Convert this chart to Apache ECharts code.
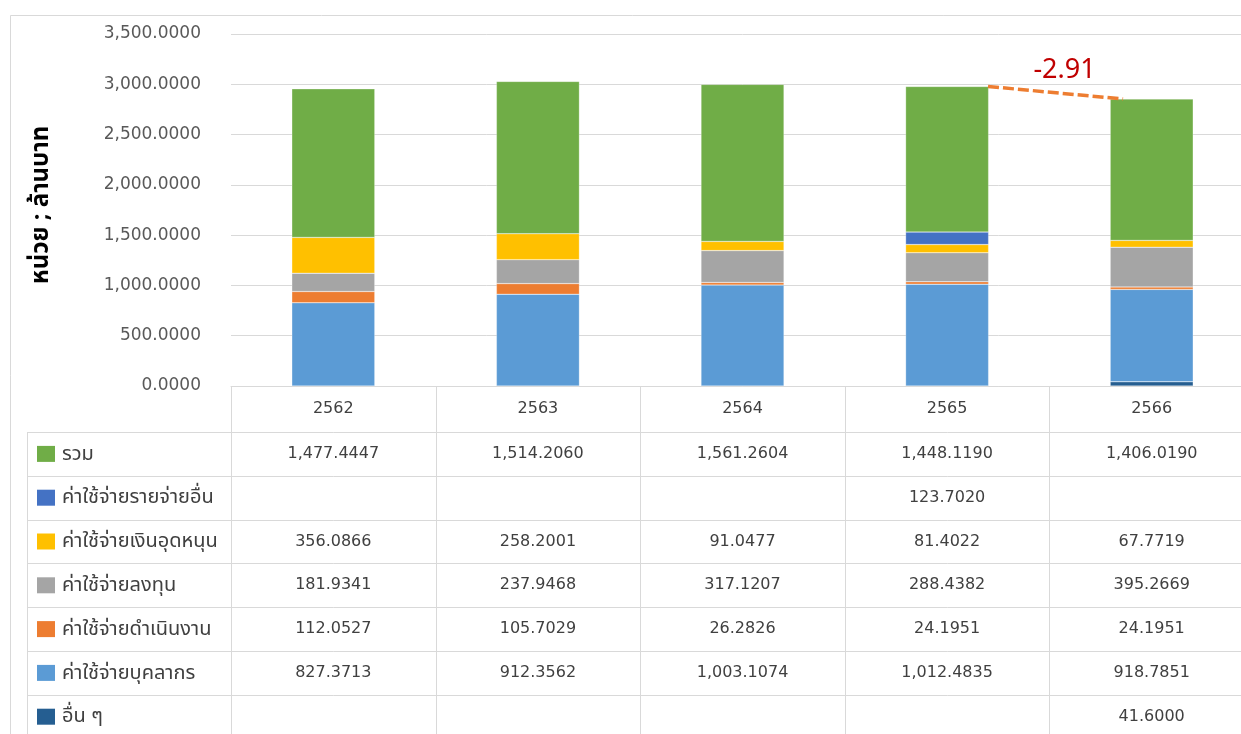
<!DOCTYPE html>
<html>
<head>
<meta charset="utf-8">
<script src="https://cdn.jsdelivr.net/npm/echarts@6/dist/echarts.min.js"></script>
<style>
  html, body { margin: 0; padding: 0; background: #fff; overflow: hidden; width: 1241px; height: 734px; }
  /* the last table column runs past the right edge of the page */
  #chart { width: 1254px; height: 734px; }
</style>
</head>
<body>
<div id="chart"></div>
<script>
// Fiscal years (Thai Buddhist era)
const years = ['2562', '2563', '2564', '2565', '2566'];

// Expense groups, million baht (null = no entry)
const otherMisc     = [null, null, null, null, 41.6000];                              // อื่น ๆ
const personnel     = [827.3713, 912.3562, 1003.1074, 1012.4835, 918.7851];            // ค่าใช้จ่ายบุคลากร
const operations    = [112.0527, 105.7029, 26.2826, 24.1951, 24.1951];                 // ค่าใช้จ่ายดำเนินงาน
const investment    = [181.9341, 237.9468, 317.1207, 288.4382, 395.2669];              // ค่าใช้จ่ายลงทุน
const subsidy       = [356.0866, 258.2001, 91.0477, 81.4022, 67.7719];                 // ค่าใช้จ่ายเงินอุดหนุน
const otherExpense  = [null, null, null, 123.7020, null];                              // ค่าใช้จ่ายรายจ่ายอื่น
const total         = [1477.4447, 1514.2060, 1561.2604, 1448.1190, 1406.0190];         // รวม

const yTicks = { min: 0, max: 3500, interval: 500 };

// Series in stacking order (bottom to top)
const stackSeries = [
  { name: 'อื่น ๆ',               data: otherMisc,    color: '#255E91' },
  { name: 'ค่าใช้จ่ายบุคลากร',      data: personnel,    color: '#5B9BD5' },
  { name: 'ค่าใช้จ่ายดำเนินงาน',    data: operations,   color: '#ED7D31' },
  { name: 'ค่าใช้จ่ายลงทุน',       data: investment,   color: '#A5A5A5' },
  { name: 'ค่าใช้จ่ายเงินอุดหนุน',   data: subsidy,      color: '#FFC000' },
  { name: 'ค่าใช้จ่ายรายจ่ายอื่น',   data: otherExpense, color: '#4472C4' },
  { name: 'รวม',                 data: total,        color: '#70AD47' }
];

const NUM_FONT = "'DejaVu Sans', 'Noto Sans', sans-serif";
const TXT_FONT = "'Noto Sans', 'Noto Sans Thai', 'DejaVu Sans', sans-serif";
const fmt4 = v => v == null ? '' :
  v.toLocaleString('en-US', { minimumFractionDigits: 4, maximumFractionDigits: 4 });

// Stack heights per year (sum of all segments)
const stackTop = years.map((_, i) =>
  stackSeries.reduce((s, ser) => s + (ser.data[i] || 0), 0));

// Year-on-year change of the total, last two years (%)
const pctChange = ((total[4] - total[3]) / total[3] * 100).toFixed(2);

const chart = echarts.init(document.getElementById('chart'), null, { renderer: 'canvas' });

const BAR_W = 83;

const option = {
  animation: false,
  backgroundColor: '#fff',
  textStyle: { fontFamily: TXT_FONT },
  grid: { left: 231, right: 0, top: 34, bottom: 348, containLabel: false },
  xAxis: [
    {
      type: 'category',
      data: years,
      axisLine: { show: true, lineStyle: { color: '#D9D9D9', width: 1 } },
      axisTick: { show: false },
      axisLabel: { color: '#404040', fontSize: 16, margin: 15, fontFamily: NUM_FONT }
    },
    {
      type: 'value', min: -0.5, max: 4.5, show: false
    }
  ],
  yAxis: {
    type: 'value',
    min: yTicks.min, max: yTicks.max, interval: yTicks.interval,
    axisLine: { show: false },
    axisTick: { show: false },
    splitLine: { lineStyle: { color: '#D9D9D9', width: 1 } },
    axisLabel: { color: '#595959', fontSize: 17, margin: 30, fontFamily: NUM_FONT, formatter: v => fmt4(v) }
  },
  series: stackSeries.map(s => ({
    name: s.name,
    type: 'bar',
    stack: 'all',
    xAxisIndex: 0,
    barWidth: BAR_W,
    data: s.data,
    itemStyle: { color: s.color, borderColor: 'rgba(255,255,255,0.5)', borderWidth: 0.5 }
  })).concat([{
    // Dashed connector between the tops of the last two stacks
    type: 'line',
    xAxisIndex: 1,
    symbol: 'none',
    z: 5,
    lineStyle: { color: '#ED7D31', width: 3.5, type: [11, 4] },
    data: [[3 + 0.2, stackTop[3]], [4 - 0.14, stackTop[4]]]
  }])
};

chart.setOption(option);

// Data table under the plot: year header, legend keys and values
function drawTable() {
  const x0 = chart.convertToPixel({ xAxisIndex: 0 }, 0);
  const x1 = chart.convertToPixel({ xAxisIndex: 0 }, 1);
  const band = x1 - x0;
  const yBase = chart.convertToPixel({ yAxisIndex: 0 }, 0);
  const left = x0 - band / 2;
  const right = left + band * years.length;
  const headerH = 46;
  const rowH = 43.8;
  const legendLeft = 27;
  const lineColor = '#D9D9D9';
  const bottom = 734;
  const els = [];

  // Outer chart border
  els.push({ type: 'rect', shape: { x: 10.5, y: 15.5, width: 1300, height: 800 },
    style: { fill: 'none', stroke: '#D9D9D9', lineWidth: 1 }, z: -1 });

  // Vertical column separators
  for (let c = 0; c <= years.length; c++) {
    const x = Math.round(left + c * band) + 0.5;
    els.push({ type: 'line', shape: { x1: x, y1: yBase, x2: x, y2: bottom },
      style: { stroke: lineColor, lineWidth: 1 } });
  }
  // Legend column left edge
  els.push({ type: 'line', shape: { x1: legendLeft + 0.5, y1: yBase + headerH, x2: legendLeft + 0.5, y2: bottom },
    style: { stroke: lineColor, lineWidth: 1 } });

  const rows = stackSeries.slice().reverse();
  rows.forEach((s, r) => {
    const yTop = yBase + headerH + r * rowH;
    const yc = yTop + rowH / 2;
    const yl = Math.round(yTop) + 0.5;
    els.push({ type: 'line', shape: { x1: legendLeft, y1: yl, x2: right, y2: yl },
      style: { stroke: lineColor, lineWidth: 1 } });
    // Legend key
    els.push({ type: 'rect', shape: { x: 37, y: yc - 8, width: 18, height: 16 },
      style: { fill: s.color } });
    els.push({ type: 'text', x: 62, y: yc, style: {
      text: s.name, fill: '#404040', font: '20px ' + TXT_FONT, verticalAlign: 'middle', align: 'left' } });
    // Values
    s.data.forEach((v, i) => {
      if (v == null) return;
      els.push({ type: 'text', x: left + (i + 0.5) * band, y: yc, style: {
        text: fmt4(v), fill: '#404040', font: '16px ' + NUM_FONT, verticalAlign: 'middle', align: 'center' } });
    });
  });

  // Percentage change label above the connector
  const p0 = chart.convertToPixel({ xAxisIndex: 1, yAxisIndex: 0 }, [3.2, stackTop[3]]);
  const p1 = chart.convertToPixel({ xAxisIndex: 1, yAxisIndex: 0 }, [3.86, stackTop[4]]);
  els.push({ type: 'text', x: (p0[0] + p1[0]) / 2 + 9, y: (p0[1] + p1[1]) / 2 - 22, style: {
    text: pctChange, fill: '#C00000', font: '27px ' + TXT_FONT, verticalAlign: 'middle', align: 'center' } });

  // Axis title
  els.push({ type: 'text', x: 41, y: 205, rotation: Math.PI / 2, style: {
    text: 'หน่วย ; ล้านบาท', fill: '#000', font: 'bold 24px ' + TXT_FONT, verticalAlign: 'middle', align: 'center' } });

  chart.setOption({ graphic: els.map(e => Object.assign({ silent: true }, e)) });
}

drawTable();
</script>
</body>
</html>
